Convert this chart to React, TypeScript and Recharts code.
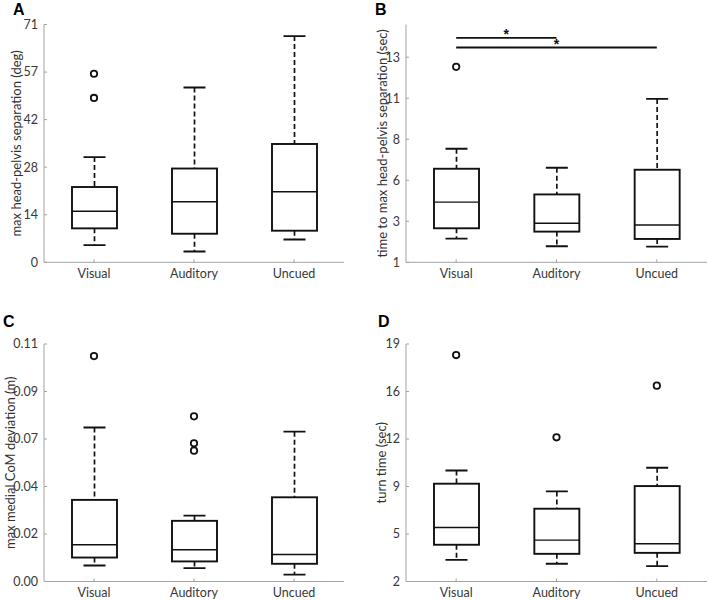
import { ComposedChart, Bar, Scatter, XAxis, YAxis, ReferenceLine } from 'recharts';

const categories = ['Visual', 'Auditory', 'Uncued'];

// five-number summaries per condition: [lower whisker, q1, median, q3, upper whisker]
const headPelvisSep = [
  [5.1, 10.1, 15.2, 22.4, 31.3],
  [3.2, 8.5, 18.0, 27.9, 52.0],
  [6.8, 9.4, 21.0, 35.2, 67.3],
];
const headPelvisSepOut = [
  { name: 'Visual', v: 56.1 },
  { name: 'Visual', v: 48.9 },
];
const sepTicks = [0, 14.15, 28.3, 42.45, 56.6, 70.75];
const sepTickLabels = ['0', '14', '28', '42', '57', '71'];

const timeToSep = [
  [2.42, 3.04, 4.61, 6.61, 7.81],
  [1.96, 2.84, 3.34, 5.07, 6.67],
  [1.94, 2.4, 3.24, 6.55, 10.8],
];
const timeToSepOut = [{ name: 'Visual', v: 12.72 }];
const timeTicks = [1, 3.46, 5.92, 8.38, 10.84, 13.3];
const timeTickLabels = ['1', '3', '6', '8', '11', '13'];
// significance brackets: [from, to, y]
const sigPairs: [string, string, number][] = [
  ['Visual', 'Auditory', 14.46],
  ['Visual', 'Uncued', 13.88],
];

const comDev = [
  [0.0074, 0.0111, 0.017, 0.0378, 0.0713],
  [0.0062, 0.0093, 0.0147, 0.0281, 0.0305],
  [0.0032, 0.0082, 0.0125, 0.039, 0.0694],
];
const comDevOut = [
  { name: 'Visual', v: 0.1044 },
  { name: 'Auditory', v: 0.0765 },
  { name: 'Auditory', v: 0.064 },
  { name: 'Auditory', v: 0.0606 },
];
const comTicks = [0, 0.022, 0.044, 0.066, 0.088, 0.11];
const comTickLabels = ['0.00', '0.02', '0.04', '0.07', '0.09', '0.11'];

const turnTime = [
  [3.55, 4.63, 5.87, 9.0, 9.95],
  [3.27, 3.98, 4.96, 7.21, 8.45],
  [3.1, 4.05, 4.7, 8.83, 10.14],
];
const turnTimeOut = [
  { name: 'Visual', v: 18.21 },
  { name: 'Auditory', v: 12.32 },
  { name: 'Uncued', v: 16.02 },
];
const turnTicks = [2, 5.4, 8.8, 12.2, 15.6, 19];
const turnTickLabels = ['2', '5', '9', '12', '16', '19'];

const W = 354;
const H = 300;
const axisGrey = '#a3a3a3';
const textFont = 'Lato, "Open Sans", sans-serif';

function toRows(stats: number[][]) {
  return categories.map((name, i) => {
    const [lo, q1, med, q3, hi] = stats[i];
    return { name, lo, q1, med, q3, hi };
  });
}

function BoxShape(props: any) {
  const { x, y, width, height, payload } = props;
  if (!payload) return null;
  const top = Math.min(y, y + height);
  const bot = Math.max(y, y + height);
  const span = payload.hi - payload.lo;
  // the bar covers lo..hi, so inner values are placed on the same linear scale
  const py = (v: number) => bot - ((bot - top) * (v - payload.lo)) / span;
  const cx = x + width / 2;
  const cap = 11;
  const yq1 = py(payload.q1);
  const yq3 = py(payload.q3);
  const ymed = py(payload.med);
  return (
    <g stroke="#111" fill="none">
      <line x1={cx} x2={cx} y1={top} y2={yq3} strokeWidth={1.7} strokeDasharray="5 3" />
      <line x1={cx} x2={cx} y1={yq1} y2={bot} strokeWidth={1.7} strokeDasharray="5 3" />
      <line x1={cx - cap} x2={cx + cap} y1={top} y2={top} strokeWidth={1.9} />
      <line x1={cx - cap} x2={cx + cap} y1={bot} y2={bot} strokeWidth={1.9} />
      <rect x={x} y={yq3} width={width} height={yq1 - yq3} fill="#fff" strokeWidth={1.9} />
      <line x1={x} x2={x + width} y1={ymed} y2={ymed} strokeWidth={1.4} />
    </g>
  );
}

function Ring(props: any) {
  const { cx, cy } = props;
  if (cx == null || cy == null) return null;
  return <circle cx={cx} cy={cy} r={3.2} fill="none" stroke="#111" strokeWidth={1.8} />;
}

interface PanelProps {
  letter: string;
  letterX: number;
  letterY: number;
  left: number;
  top: number;
  stats: number[][];
  outliers: { name: string; v: number }[];
  ticks: number[];
  tickLabels: string[];
  domain: [number, number];
  yLabel: string;
  labelX: number;
  plotLeft: number;
  plotRight: number;
  plotTop: number;
  plotBottom: number;
  sig?: [string, string, number][];
}

function Panel(p: PanelProps) {
  const rows = toRows(p.stats);
  const fmt = (v: number) => p.tickLabels[p.ticks.indexOf(v)] ?? '';
  return (
    <div style={{ position: 'absolute', left: p.left, top: p.top, width: W, height: H }}>
      <svg width={40} height={40} style={{ position: 'absolute', left: 0, top: 0 }}>
        <text x={p.letterX} y={p.letterY} fontFamily='"Liberation Sans", Arial, sans-serif' fontWeight="bold" fontSize={16} fill="#000">
          {p.letter}
        </text>
      </svg>
      <ComposedChart
        width={W}
        height={H}
        data={rows}
        margin={{ top: p.plotTop, right: W - p.plotRight, bottom: H - p.plotBottom - 30, left: 0 }}
      >
        <XAxis
          dataKey="name"
          type="category"
          allowDuplicatedCategory={false}
          height={30}
          stroke={axisGrey}
          tickSize={-3}
          tickMargin={10}
          tick={{ fill: '#383838', fontSize: 12.5, fontFamily: textFont }}
        />
        <XAxis
          xAxisId="top"
          orientation="top"
          dataKey="name"
          type="category"
          allowDuplicatedCategory={false}
          height={0}
          stroke={axisGrey}
          tickSize={-3}
          tick={false}
        />
        <YAxis
          type="number"
          width={p.plotLeft}
          domain={p.domain}
          ticks={p.ticks}
          allowDataOverflow
          tickFormatter={fmt}
          stroke={axisGrey}
          tickSize={-3}
          tickMargin={9}
          tick={{ fill: '#383838', fontSize: 12.5, fontFamily: textFont }}
          label={{
            value: p.yLabel,
            angle: -90,
            position: 'insideLeft',
            offset: p.labelX,
            style: { textAnchor: 'middle', fill: '#303030', fontSize: 13, fontFamily: textFont },
          }}
        />
        <YAxis
          yAxisId="r"
          orientation="right"
          type="number"
          width={0}
          domain={p.domain}
          ticks={p.ticks}
          allowDataOverflow
          stroke={axisGrey}
          tickSize={-3}
          tick={false}
        />
        <Bar dataKey={(d: any) => [d.lo, d.hi]} barSize={45} shape={<BoxShape />} isAnimationActive={false} />
        <Scatter data={p.outliers} dataKey="v" shape={<Ring />} isAnimationActive={false} />
        {(p.sig ?? []).map(([a, b, yv]) => (
          <ReferenceLine
            key={a + b}
            segment={[{ x: a, y: yv }, { x: b, y: yv }]}
            stroke="#111"
            strokeWidth={1.8}
            label={{ value: '*', position: 'top', offset: -1, fill: '#111', fontSize: 14, fontWeight: 'bold', fontFamily: '"Liberation Sans", Arial, sans-serif' }}
          />
        ))}
      </ComposedChart>
    </div>
  );
}

export default function App() {
  return (
    <div style={{ position: 'absolute', left: 0, top: 0, width: 708, height: 600, background: '#fff' }}>
      <Panel
        letter="A" letterX={13} letterY={14.5} left={0} top={0}
        stats={headPelvisSep} outliers={headPelvisSepOut}
        ticks={sepTicks} tickLabels={sepTickLabels} domain={[0, 70.75]}
        yLabel="max head-pelvis separation (deg)" labelX={16}
        plotLeft={44} plotRight={344} plotTop={24.5} plotBottom={262.3}
      />
      <Panel
        letter="B" letterX={21} letterY={14.5} left={354} top={0}
        stats={timeToSep} outliers={timeToSepOut}
        ticks={timeTicks} tickLabels={timeTickLabels} domain={[1, 15.26]}
        yLabel="time to max head-pelvis separation (sec)" labelX={28}
        plotLeft={52} plotRight={353} plotTop={24.5} plotBottom={262.3}
        sig={sigPairs}
      />
      <Panel
        letter="C" letterX={3} letterY={26.5} left={0} top={300}
        stats={comDev} outliers={comDevOut}
        ticks={comTicks} tickLabels={comTickLabels} domain={[0, 0.11]}
        yLabel="max medial CoM deviation (m)" labelX={10}
        plotLeft={44} plotRight={344} plotTop={44} plotBottom={281.5}
      />
      <Panel
        letter="D" letterX={24} letterY={26.5} left={354} top={300}
        stats={turnTime} outliers={turnTimeOut}
        ticks={turnTicks} tickLabels={turnTickLabels} domain={[2, 19]}
        yLabel="turn time (sec)" labelX={27}
        plotLeft={52} plotRight={353} plotTop={44} plotBottom={281.5}
      />
    </div>
  );
}
